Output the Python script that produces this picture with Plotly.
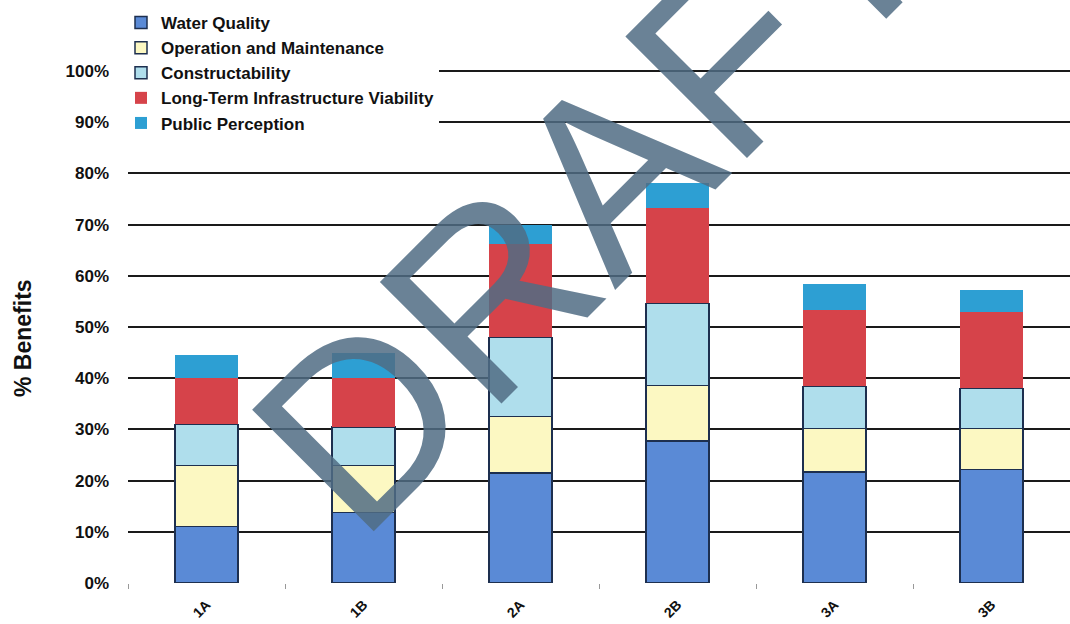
import plotly.graph_objects as go

categories = ["1A", "1B", "2A", "2B", "3A", "3B"]
water_quality = [11.0, 13.8, 21.5, 27.7, 21.7, 22.2]
operation_maintenance = [12.0, 9.2, 11.0, 10.9, 8.5, 8.0]
constructability = [8.0, 7.5, 15.5, 16.0, 8.2, 7.8]
long_term_viability = [9.0, 9.5, 18.3, 18.6, 14.9, 15.0]
public_perception = [4.5, 5.0, 3.7, 5.0, 5.2, 4.2]

series = [
    ("Water Quality", water_quality, "#5a8ad6", "#1d2f4f", 1.5),
    ("Operation and Maintenance", operation_maintenance, "#fcf8c2", "#1d2f4f", 1.5),
    ("Constructability", constructability, "#afdeec", "#1d2f4f", 1.5),
    ("Long-Term Infrastructure Viability", long_term_viability, "#d6434a", "#d6434a", 0),
    ("Public Perception", public_perception, "#2d9fd3", "#2d9fd3", 0),
]

FONT = "Liberation Sans, Arial, Helvetica, sans-serif"

fig = go.Figure()
for i, (name, vals, col, lcol, lw) in enumerate(series):
    fig.add_trace(go.Bar(
        x=categories, y=vals, name=name,
        marker=dict(color=col, line=dict(color=lcol, width=lw)),
    ))

W, H = 1070, 624
ml, mr, mt, mb = 128, 0, 68, 41
pw = W - ml - mr
ph = H - mt - mb

def px_to_paper(x, y):
    return (x - ml) / pw, (H - mb - y) / ph

fig.update_layout(
    width=W, height=H,
    barmode="stack", bargap=0.6,
    plot_bgcolor="white", paper_bgcolor="white",
    margin=dict(l=ml, r=mr, t=mt, b=mb, autoexpand=False),
    font=dict(family=FONT, color="#111111"),
    showlegend=True,
    legend=dict(
        x=px_to_paper(121, 0)[0], y=px_to_paper(0, 5)[1],
        xanchor="left", yanchor="top",
        traceorder="normal",
        bgcolor="white",
        font=dict(family=FONT, size=17, color="#111111", weight="bold"),
        itemwidth=30,
    ),
    xaxis=dict(
        tickangle=-45,
        tickfont=dict(family=FONT, size=14, weight="bold", color="#111111"),
        ticks="outside", tickson="boundaries", ticklen=5, tickcolor="#999999",
        ticklabelstandoff=10,
        showline=False, showgrid=False,
    ),
    yaxis=dict(
        range=[0, 100.6],
        tickvals=[0, 10, 20, 30, 40, 50, 60, 70, 80, 90, 100],
        ticktext=["0%", "10%", "20%", "30%", "40%", "50%", "60%", "70%", "80%", "90%", "100%"],
        tickfont=dict(family=FONT, size=17, weight="bold", color="#111111"),
        showgrid=True, gridcolor="#1a1a1a", gridwidth=1.5,
        zeroline=False, showline=False,
        ticks="", ticklabelstandoff=18,
    ),
)

tx, ty = px_to_paper(23, 338)
fig.add_annotation(
    text="% Benefits", xref="paper", yref="paper", x=tx, y=ty,
    textangle=-90, showarrow=False, xanchor="center", yanchor="middle",
    font=dict(family=FONT, size=23, weight="bold", color="#111111"),
)

wx, wy = px_to_paper(592, 190)
fig.add_annotation(
    text="DRAFT", xref="paper", yref="paper", x=wx, y=wy,
    textangle=-45, showarrow=False, xanchor="center", yanchor="middle",
    font=dict(family=FONT, size=250, color="rgba(80,108,132,0.85)"),
)

fig.write_html("out.html")
